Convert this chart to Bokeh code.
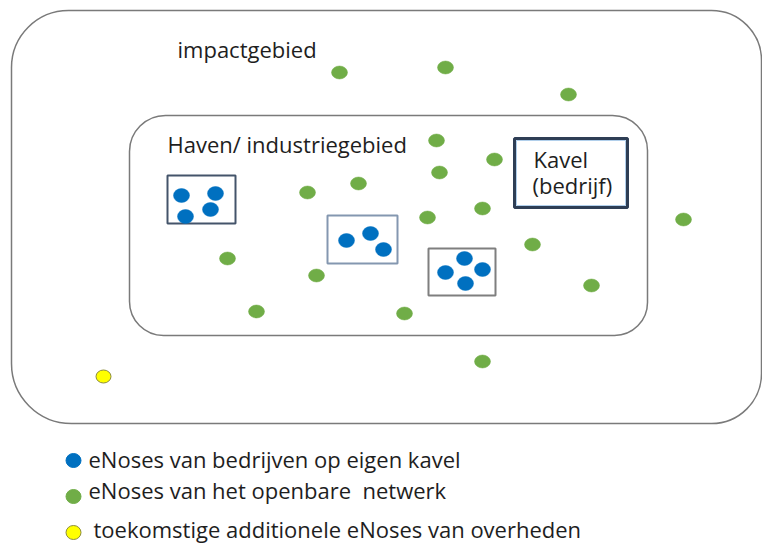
from bokeh.plotting import figure
from bokeh.models import Range1d, BoxAnnotation, ColumnDataSource
from bokeh.core.properties import value
from bokeh.embed import file_html
from bokeh.resources import INLINE

# ---- data (diagram coordinates, in reference pixels; y grows downward) ----
green_x = [339, 445, 568, 436, 494, 439, 358, 307, 482, 427, 683, 532, 227, 316, 591, 256, 404, 482]
green_y = [72, 67, 94, 140, 159, 172, 183, 192, 208, 217, 219, 244, 258, 275, 285, 311, 313, 361]

blue_x = [181, 215, 210, 185, 346, 370, 383, 445, 464, 482, 465]
blue_y = [195, 193, 209, 216, 240, 233, 249, 272, 258, 269, 283]

yellow_x = [103]
yellow_y = [376]

# zones: left, right, top, bottom, corner radius
zone_names = ["impactgebied", "Haven/ industriegebied"]
zone_left = [11, 129]
zone_right = [761, 647]
zone_top = [10, 115]
zone_bottom = [423, 335]
zone_radius = [(57, 50, 50, 60), (36, 35, 33, 34)]
zone_label_x = [177, 167]
zone_label_y = [57, 152]

# company plots (kavels)
plot_left = [167, 327, 428]
plot_right = [235, 397, 495]
plot_top = [175, 215, 248]
plot_bottom = [223, 263, 295]
plot_colors = ["#44546a", "#8497b0", "#7f7f7f"]

kavel_box = dict(left=514, right=627, top=138, bottom=207)
kavel_lines = ["Kavel", "(bedrijf)"]
kavel_x = [533, 532]
kavel_y = [167, 193]

legend_labels = [
    "eNoses van bedrijven op eigen kavel",
    "eNoses van het openbare\u00a0 netwerk",
    "toekomstige additionele eNoses van overheden",
]
legend_colors = ["#0070c0", "#70ad47", "#ffff00"]
legend_dot_x = [73, 73, 73]
legend_dot_y = [460, 496, 532]
legend_text_x = [88, 88, 93]
legend_text_y = [467, 498, 537]

FONT = value("Open Sans")
TEXT_COLOR = "#1e1e1e"
FS = "22px"
TEXT_SHIFT = -9

p = figure(width=762, height=543, output_backend="svg", toolbar_location=None,
           x_range=Range1d(0, 762), y_range=Range1d(543, 0),
           min_border=0, outline_line_color=None)
p.axis.visible = False
p.grid.visible = False
p.background_fill_color = "white"
p.border_fill_color = "white"

# zones
for l, r, t, b, rad in zip(zone_left, zone_right, zone_top, zone_bottom, zone_radius):
    p.add_layout(BoxAnnotation(left=l, right=r, top=t, bottom=b, border_radius=rad,
                               fill_alpha=0, line_color="#7a7a7a", line_alpha=1,
                               line_width=1.5, level="underlay"))

# company plots
for l, r, t, b, c in zip(plot_left, plot_right, plot_top, plot_bottom, plot_colors):
    p.add_layout(BoxAnnotation(left=l, right=r, top=t, bottom=b,
                               fill_alpha=0, line_color=c, line_alpha=1, line_width=2,
                               level="underlay"))

p.add_layout(BoxAnnotation(fill_alpha=0, line_color="#2e3e55", line_alpha=1, line_width=3,
                           level="underlay", **kavel_box))
p.add_layout(BoxAnnotation(left=kavel_box["left"] + 2, right=kavel_box["right"] - 2,
                           top=kavel_box["top"] + 2, bottom=kavel_box["bottom"] - 2,
                           fill_alpha=0, line_color="#9dc3e6", line_alpha=0.8,
                           line_width=1, level="underlay"))

# zone labels
p.text(x=zone_label_x, y=zone_label_y, text=zone_names, text_font=FONT,
       text_font_size=FS, text_color=TEXT_COLOR, y_offset=TEXT_SHIFT,
       text_baseline="alphabetic", text_align="left")
p.text(x=kavel_x, y=kavel_y, text=kavel_lines, text_font=FONT,
       text_font_size=FS, text_color=TEXT_COLOR, y_offset=TEXT_SHIFT,
       text_baseline="alphabetic", text_align="left")

# sensors
p.ellipse(x=green_x, y=green_y, width=16, height=13, fill_color="#70ad47",
          line_color="#70ad47", line_width=0.5)
p.ellipse(x=blue_x, y=blue_y, width=16, height=14, fill_color="#0070c0",
          line_color="#0070c0", line_width=0.5)
p.ellipse(x=yellow_x, y=yellow_y, width=15, height=13, fill_color="#ffff00",
          line_color="#8c8c3c", line_width=1)

# legend
src = ColumnDataSource(dict(x=legend_dot_x, y=legend_dot_y, c=legend_colors,
                            lc=["#0070c0", "#70ad47", "#8c8c3c"]))
p.ellipse(x="x", y="y", width=15, height=14, fill_color="c", line_color="lc",
          line_width=1, source=src)
p.text(x=legend_text_x, y=legend_text_y, text=legend_labels, text_font=FONT,
       text_font_size=FS, text_color=TEXT_COLOR, y_offset=TEXT_SHIFT,
       text_baseline="alphabetic", text_align="left")

open("out.html", "w").write(file_html(p, INLINE))
